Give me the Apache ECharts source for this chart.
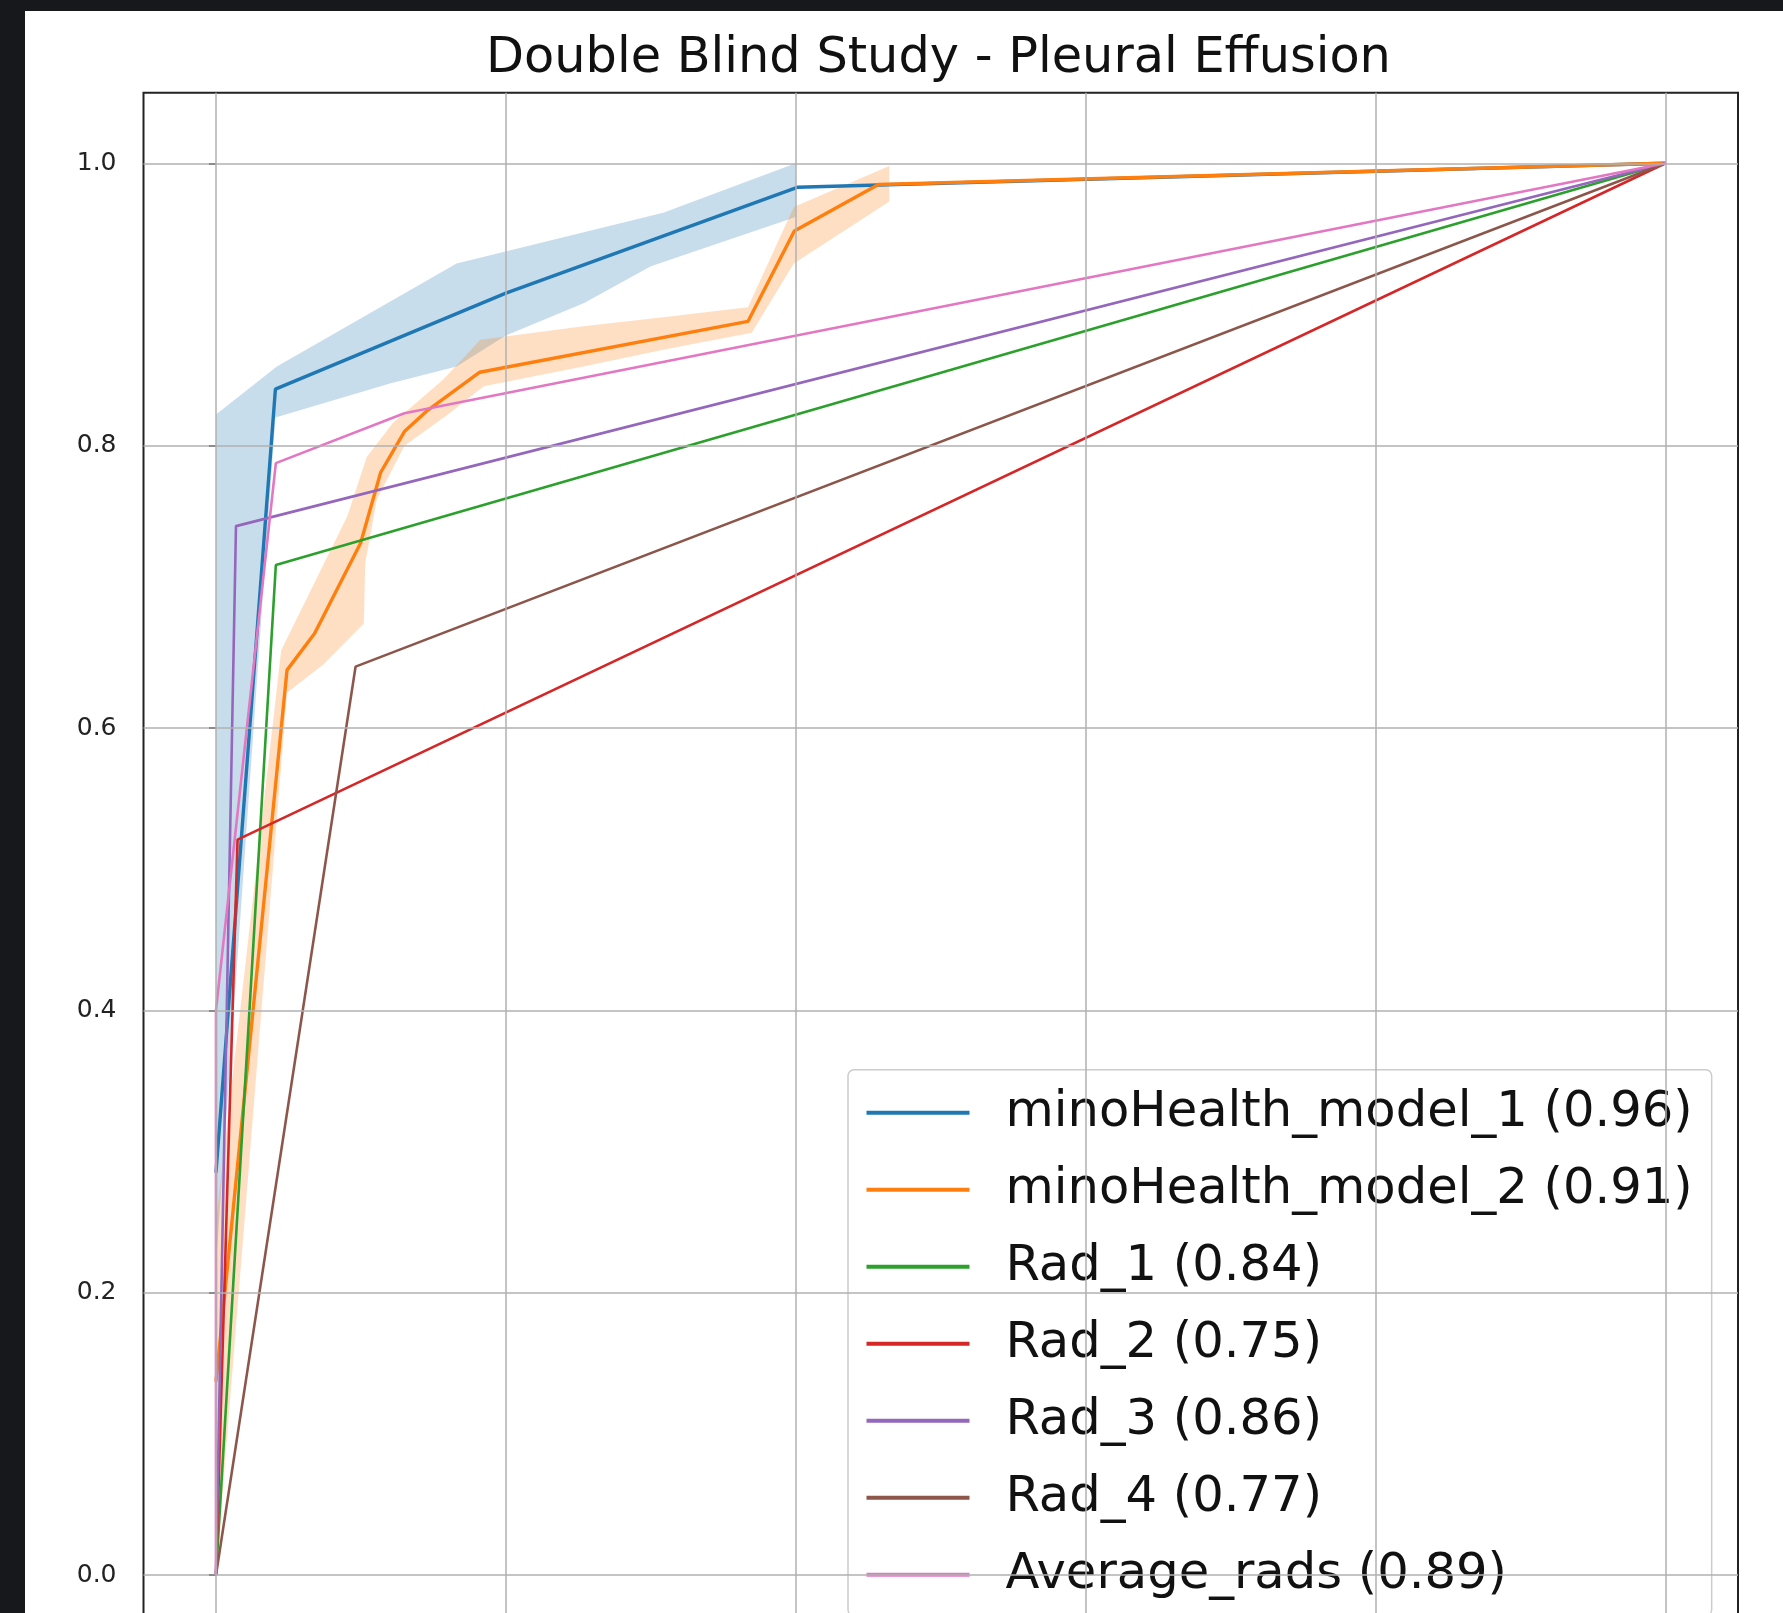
<!DOCTYPE html>
<html>
<head>
<meta charset="utf-8">
<script src="https://cdn.jsdelivr.net/npm/echarts@6/dist/echarts.min.js"></script>
<style>
html, body { margin: 0; padding: 0; background: #ffffff; overflow: hidden; }
#frame { width: 1783px; height: 1613px; overflow: hidden; position: relative; }
#chart { width: 1783px; height: 1680px; position: absolute; left: 0; top: 0; }
</style>
</head>
<body>
<div id="frame"><div id="chart"></div></div>
<script>
// ---- Data ----
const titleText = 'Double Blind Study - Pleural Effusion';
const seriesNames = [
  'minoHealth_model_1 (0.96)',
  'minoHealth_model_2 (0.91)',
  'Rad_1 (0.84)',
  'Rad_2 (0.75)',
  'Rad_3 (0.86)',
  'Rad_4 (0.77)',
  'Average_rads (0.89)'
];
const gridTicks = [0.0, 0.2, 0.4, 0.6, 0.8, 1.0];

// minoHealth_model_1 (mean ROC + std band)
const model1Fpr = [0, 0.041, 0.200, 0.401, 1];
const model1Tpr = [0.285, 0.840, 0.908, 0.983, 1];
const model1UpperFpr = [0, 0.042, 0.166, 0.3085, 0.400];
const model1UpperTpr = [0.822, 0.856, 0.929, 0.965, 1.000];
const model1LowerFpr = [0, 0.041, 0.120, 0.166, 0.200, 0.254, 0.300, 0.400];
const model1LowerTpr = [0.220, 0.820, 0.844, 0.856, 0.878, 0.901, 0.927, 0.962];

// minoHealth_model_2 (mean ROC + std band)
const model2Fpr = [0, 0.049, 0.068, 0.0998, 0.1136, 0.130, 0.146, 0.182, 0.367, 0.399, 0.457, 1];
const model2Tpr = [0.137, 0.641, 0.667, 0.731, 0.781, 0.810, 0.825, 0.852, 0.888, 0.952, 0.985, 1];
const model2UpperFpr = [0, 0.045, 0.0906, 0.104, 0.122, 0.157, 0.1824, 0.2535, 0.3085, 0.367, 0.3986, 0.4645];
const model2UpperTpr = [0.250, 0.655, 0.750, 0.792, 0.816, 0.847, 0.875, 0.8845, 0.891, 0.898, 0.969, 0.998];
const model2LowerFpr = [0, 0.049, 0.074, 0.102, 0.103, 0.111, 0.130, 0.160, 0.1847, 0.2535, 0.3085, 0.3696, 0.3986, 0.4645];
const model2LowerTpr = [0.000, 0.625, 0.645, 0.674, 0.717, 0.762, 0.800, 0.822, 0.842, 0.856, 0.868, 0.880, 0.929, 0.973];

// Radiologists
const rad1Fpr = [0, 0.0413, 1];
const rad1Tpr = [0, 0.7155, 1];
const rad2Fpr = [0, 0.0149, 1];
const rad2Tpr = [0, 0.521, 1];
const rad3Fpr = [0, 0.0138, 1];
const rad3Tpr = [0, 0.743, 1];
const rad4Fpr = [0, 0.0963, 1];
const rad4Tpr = [0, 0.6435, 1];
const avgFpr = [0, 0, 0.0413, 0.130, 1];
const avgTpr = [0, 0.400, 0.7876, 0.823, 1];

// ---- Styling ----
const colors = ['#1f77b4', '#ff7f0e', '#2ca02c', '#d62728', '#9467bd', '#8c564b', '#e377c2'];
const FONT = 'DejaVu Sans';

function pairs(xs, ys) { return xs.map((x, i) => [x, ys[i]]); }

function bandSeries(name, ux, uy, lx, ly, fill) {
  return {
    name: name,
    type: 'custom',
    coordinateSystem: 'cartesian2d',
    silent: true,
    clip: true,
    data: pairs(ux, uy),
    encode: { x: 0, y: 1 },
    renderItem: function (params, api) {
      if (params.dataIndex !== 0) return null;
      const pts = [];
      for (let i = 0; i < ux.length; i++) pts.push(api.coord([ux[i], uy[i]]));
      for (let i = lx.length - 1; i >= 0; i--) pts.push(api.coord([lx[i], ly[i]]));
      return { type: 'polygon', shape: { points: pts }, style: { fill: fill } };
    }
  };
}

function lineSeries(name, xs, ys, color, width) {
  return {
    name: name,
    type: 'line',
    data: pairs(xs, ys),
    color: color,
    symbol: 'none',
    showSymbol: false,
    clip: true,
    lineStyle: { color: color, width: width },
    emphasis: { disabled: true },
    z: 3
  };
}

const chart = echarts.init(document.getElementById('chart'), null, { renderer: 'canvas' });

const option = {
  animation: false,
  backgroundColor: '#ffffff',
  title: {
    text: titleText,
    left: 486,
    top: 35,
    padding: 0,
    textStyle: { fontFamily: FONT, fontSize: 49.4, fontWeight: 'normal', color: '#111111' }
  },
  graphic: [
    { type: 'rect', left: 0, top: 0, z: 100, shape: { width: 25, height: 1680 }, style: { fill: '#17181c' } },
    { type: 'rect', left: 0, top: 0, z: 100, shape: { width: 1783, height: 11 }, style: { fill: '#17181c' } }
  ],
  grid: {
    left: 143.5,
    top: 92.7,
    width: 1594.5,
    height: 1553,
    show: true,
    backgroundColor: '#ffffff',
    borderColor: '#222222',
    borderWidth: 2
  },
  xAxis: {
    type: 'value',
    min: -0.05,
    max: 1.05,
    axisLine: { show: false },
    splitLine: { show: false },
    axisTick: { show: false },
    axisLabel: { show: false }
  },
  yAxis: {
    type: 'value',
    min: -0.05,
    max: 1.05,
    axisLine: { show: false },
    splitLine: { show: false },
    axisTick: { show: true, inside: false, length: 7, customValues: gridTicks, lineStyle: { color: '#222222', width: 2 } },
    axisLabel: {
      show: true,
      customValues: gridTicks,
      margin: 27,
      fontFamily: FONT,
      fontSize: 25,
      color: '#222222',
      formatter: function (v) { return Number(v).toFixed(1); }
    }
  },
  legend: {
    data: seriesNames,
    orient: 'vertical',
    left: 848,
    top: 1069.7,
    padding: [18, 19, 16, 18.5],
    icon: 'rect',
    itemWidth: 103,
    itemHeight: 4,
    itemGap: 27.0,
    selectedMode: false,
    backgroundColor: 'rgba(255,255,255,0.8)',
    borderColor: '#cccccc',
    borderWidth: 1.5,
    borderRadius: 6,
    textStyle: { fontFamily: FONT, fontSize: 49.6, color: '#111111', lineHeight: 50, padding: [0, 0, 0, 31] }
  },
  series: [
    {
      name: 'gridlines',
      type: 'line',
      data: [],
      z: 1,
      silent: true,
      markLine: {
        silent: true,
        symbol: ['none', 'none'],
        label: { show: false },
        animation: false,
        lineStyle: { color: '#b0b0b0', width: 1.5, type: 'solid' },
        emphasis: { disabled: true },
        data: gridTicks.map(v => ({ xAxis: v })).concat(gridTicks.map(v => ({ yAxis: v })))
      }
    },
    lineSeries(seriesNames[0], model1Fpr, model1Tpr, colors[0], 3.4),
    bandSeries('model1 band', model1UpperFpr, model1UpperTpr, model1LowerFpr, model1LowerTpr, 'rgba(31,119,180,0.25)'),
    lineSeries(seriesNames[1], model2Fpr, model2Tpr, colors[1], 3.4),
    bandSeries('model2 band', model2UpperFpr, model2UpperTpr, model2LowerFpr, model2LowerTpr, 'rgba(255,127,14,0.25)'),
    lineSeries(seriesNames[2], rad1Fpr, rad1Tpr, colors[2], 2.6),
    lineSeries(seriesNames[3], rad2Fpr, rad2Tpr, colors[3], 2.6),
    lineSeries(seriesNames[4], rad3Fpr, rad3Tpr, colors[4], 2.6),
    lineSeries(seriesNames[5], rad4Fpr, rad4Tpr, colors[5], 2.6),
    lineSeries(seriesNames[6], avgFpr, avgTpr, colors[6], 2.6)
  ]
};

chart.setOption(option);
</script>
</body>
</html>
